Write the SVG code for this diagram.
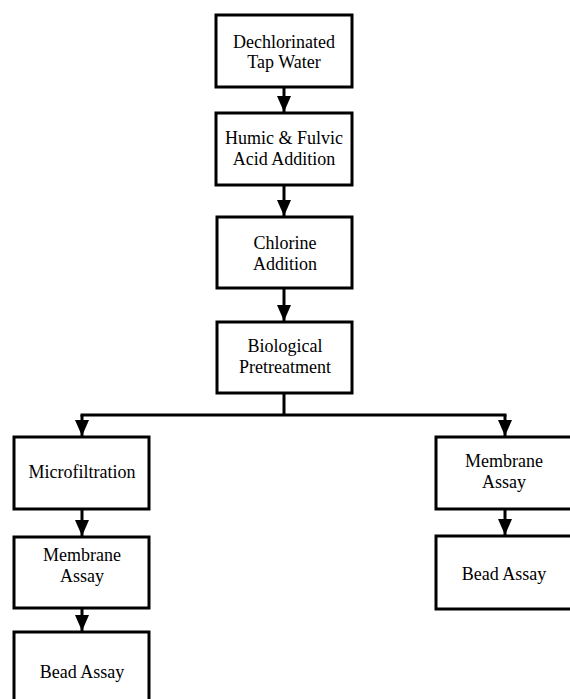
<svg xmlns="http://www.w3.org/2000/svg" width="570" height="699" viewBox="0 0 570 699">
<style>
.box{fill:#fff;stroke:#000;stroke-width:3}
.t{font-family:"Liberation Serif","Times New Roman",serif;font-size:18px;fill:#000;text-anchor:middle}
.c{stroke:#000;stroke-width:3;fill:none}
</style>
<defs>
<marker id="ah" markerUnits="userSpaceOnUse" markerWidth="16" markerHeight="16" viewBox="0 0 16 16" refX="16" refY="8" orient="auto">
<path d="M0,1 L16,8 L0,15 Z" fill="#000"/>
</marker>
</defs>
<rect width="570" height="699" fill="#fff"/>
<g id="connectors">
<line class="c" x1="284" y1="87" x2="284" y2="112" marker-end="url(#ah)"/>
<line class="c" x1="284" y1="185" x2="284" y2="216" marker-end="url(#ah)"/>
<line class="c" x1="284" y1="288" x2="284" y2="321" marker-end="url(#ah)"/>
<path class="c" d="M284,393 V415"/>
<path class="c" d="M80.5,415 H506.5"/>
<line class="c" x1="82" y1="415" x2="82" y2="436" marker-end="url(#ah)"/>
<line class="c" x1="505" y1="415" x2="505" y2="436" marker-end="url(#ah)"/>
<line class="c" x1="82" y1="509" x2="82" y2="536" marker-end="url(#ah)"/>
<line class="c" x1="82" y1="608" x2="82" y2="631" marker-end="url(#ah)"/>
<line class="c" x1="505" y1="509" x2="505" y2="535" marker-end="url(#ah)"/>
</g>
<g id="n1"><rect class="box" x="216" y="15" width="136" height="72"/><text class="t" x="284" y="48">Dechlorinated</text><text class="t" x="284" y="68">Tap Water</text></g>
<g id="n2"><rect class="box" x="216" y="113" width="136" height="72"/><text class="t" x="284" y="144">Humic &amp; Fulvic</text><text class="t" x="284" y="165">Acid Addition</text></g>
<g id="n3"><rect class="box" x="217" y="217" width="135" height="71"/><text class="t" x="285" y="249">Chlorine</text><text class="t" x="285" y="270">Addition</text></g>
<g id="n4"><rect class="box" x="217" y="322" width="135" height="71"/><text class="t" x="285" y="352">Biological</text><text class="t" x="285" y="373">Pretreatment</text></g>
<g id="n5"><rect class="box" x="14" y="437" width="135" height="72"/><text class="t" x="82" y="478">Microfiltration</text></g>
<g id="n6"><rect class="box" x="14" y="537" width="135" height="71"/><text class="t" x="82" y="561">Membrane</text><text class="t" x="82" y="582">Assay</text></g>
<g id="n7"><rect class="box" x="14" y="632" width="135" height="80"/><text class="t" x="82" y="678">Bead Assay</text></g>
<g id="n8"><rect class="box" x="436" y="437" width="140" height="72"/><text class="t" x="504" y="467">Membrane</text><text class="t" x="504" y="488">Assay</text></g>
<g id="n9"><rect class="box" x="436" y="536" width="140" height="73"/><text class="t" x="504" y="580">Bead Assay</text></g>
</svg>
